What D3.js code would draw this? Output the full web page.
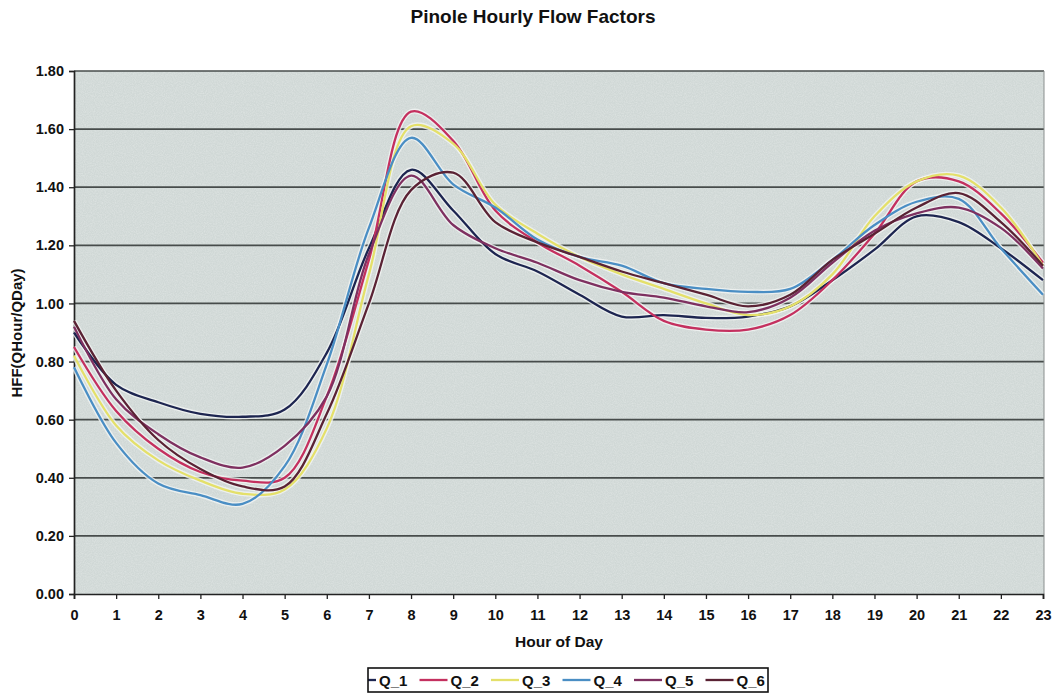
<!DOCTYPE html>
<html>
<head>
<meta charset="utf-8">
<script src="https://cdn.jsdelivr.net/npm/d3@7"></script>
<style>
  body { margin: 0; background: #fff; }
  svg text { font-family: "Liberation Sans", Arial, sans-serif; font-weight: bold; fill: #111; }
</style>
</head>
<body>
<svg id="chart" width="1055" height="694"></svg>
<script>
const hours = d3.range(0, 24);
const yTicks = [0, 0.2, 0.4, 0.6, 0.8, 1.0, 1.2, 1.4, 1.6, 1.8];
const seriesNames = ["Q_1", "Q_2", "Q_3", "Q_4", "Q_5", "Q_6"];

const q1 = [0.90, 0.72, 0.66, 0.62, 0.61, 0.635, 0.83, 1.19, 1.46, 1.32, 1.17, 1.11, 1.03, 0.955, 0.96, 0.95, 0.955, 0.99, 1.08, 1.185, 1.30, 1.28, 1.19, 1.08];
const q2 = [0.85, 0.63, 0.50, 0.42, 0.39, 0.40, 0.68, 1.15, 1.66, 1.56, 1.32, 1.21, 1.13, 1.04, 0.94, 0.91, 0.91, 0.96, 1.08, 1.24, 1.42, 1.42, 1.31, 1.14];
const q3 = [0.82, 0.58, 0.46, 0.39, 0.345, 0.36, 0.57, 1.10, 1.61, 1.55, 1.34, 1.24, 1.16, 1.10, 1.05, 1.00, 0.96, 0.99, 1.10, 1.30, 1.42, 1.44, 1.33, 1.13];
const q4 = [0.78, 0.52, 0.38, 0.34, 0.31, 0.44, 0.79, 1.26, 1.57, 1.41, 1.33, 1.22, 1.16, 1.13, 1.07, 1.05, 1.04, 1.05, 1.15, 1.27, 1.35, 1.36, 1.19, 1.03];
const q5 = [0.92, 0.67, 0.55, 0.47, 0.435, 0.51, 0.68, 1.17, 1.44, 1.27, 1.19, 1.14, 1.08, 1.04, 1.02, 0.99, 0.97, 1.02, 1.14, 1.25, 1.31, 1.33, 1.26, 1.12];
const q6 = [0.94, 0.70, 0.53, 0.43, 0.37, 0.37, 0.62, 1.00, 1.39, 1.45, 1.28, 1.21, 1.16, 1.11, 1.07, 1.03, 0.99, 1.03, 1.15, 1.24, 1.33, 1.38, 1.28, 1.13];

const seriesValues = [q1, q2, q3, q4, q5, q6];
const colors = ["#1d2550", "#c4305f", "#e4e06a", "#4a8ec4", "#7e3060", "#5a2234"];

const svg = d3.select("#chart");
const m = { left: 74, right: 1044, top: 71, bottom: 594 };

const x = d3.scaleLinear().domain([0, 23]).range([m.left, m.right - 1]);
const y = d3.scaleLinear().domain([0, 1.8]).range([m.bottom, m.top]);

// noisy scan-like background
const defs = svg.append("defs");
const f = defs.append("filter").attr("id", "grain").attr("x", 0).attr("y", 0).attr("width", 1).attr("height", 1);
f.append("feTurbulence").attr("type", "fractalNoise").attr("baseFrequency", 0.9).attr("numOctaves", 2).attr("seed", 3).attr("result", "n");
f.append("feColorMatrix").attr("in", "n").attr("type", "matrix")
  .attr("values", "0 0 0 0 1  0 0 0 0 1  0 0 0 0 1  0 0 0 -1.1 0.75").attr("result", "a");
f.append("feComposite").attr("in", "a").attr("in2", "SourceGraphic").attr("operator", "in");

defs.append("clipPath").attr("id", "legclip")
    .append("rect").attr("width", 400).attr("height", 24);

svg.append("rect")
   .attr("x", m.left).attr("y", m.top)
   .attr("width", m.right - m.left).attr("height", m.bottom - m.top)
   .attr("fill", "#d0d8d6");
svg.append("rect")
   .attr("x", m.left).attr("y", m.top)
   .attr("width", m.right - m.left).attr("height", m.bottom - m.top)
   .attr("fill", "#d0d8d6")
   .attr("filter", "url(#grain)")
   .attr("opacity", 0.4);

// grid
svg.append("g")
   .selectAll("line")
   .data(yTicks.slice(1))
   .enter()
   .append("line")
   .attr("x1", m.left).attr("x2", m.right)
   .attr("y1", d => y(d)).attr("y2", d => y(d))
   .attr("stroke", "#474c4b")
   .attr("stroke-width", 1.7);

svg.append("line")
   .attr("x1", m.right).attr("x2", m.right)
   .attr("y1", m.top).attr("y2", m.bottom)
   .attr("stroke", "#8a8f8e").attr("stroke-width", 1);

// axes
const yAxis = d3.axisLeft(y).tickValues(yTicks).tickFormat(d3.format(".2f")).tickSize(5).tickPadding(5);
const xAxis = d3.axisBottom(x).tickValues(hours).tickFormat(d3.format("d")).tickSize(5).tickPadding(11);

const gy = svg.append("g").attr("transform", `translate(${m.left},0)`).call(yAxis);
const gx = svg.append("g").attr("transform", `translate(0,${m.bottom})`).call(xAxis);
[gy, gx].forEach(g => {
  g.select(".domain").attr("stroke", "#222").attr("stroke-width", 1.7);
  g.selectAll(".tick line").attr("stroke", "#222").attr("stroke-width", 1.3);
  g.selectAll("text").attr("font-size", 14.5).attr("font-family", "Liberation Sans, Arial, sans-serif")
   .attr("font-weight", "bold").attr("fill", "#111");
});

// lines
const line = d3.line()
               .x((d, i) => x(hours[i]))
               .y(d => y(d))
               .curve(d3.curveCatmullRom.alpha(0.5));

const lines = svg.append("g");
seriesValues.forEach((vals, i) => {
  lines.append("path")
       .attr("d", line(vals))
       .attr("fill", "none")
       .attr("stroke", "#f3f5f4")
       .attr("stroke-opacity", 0.8)
       .attr("stroke-width", 5);
});
seriesValues.forEach((vals, i) => {
  lines.append("path")
       .attr("d", line(vals))
       .attr("fill", "none")
       .attr("stroke", colors[i])
       .attr("stroke-width", 2.3);
});

// titles
svg.append("text")
   .attr("x", 533).attr("y", 23)
   .attr("text-anchor", "middle")
   .attr("font-size", 19)
   .text("Pinole Hourly Flow Factors");

svg.append("text")
   .attr("x", 559).attr("y", 647)
   .attr("text-anchor", "middle")
   .attr("font-size", 15.5)
   .text("Hour of Day");

svg.append("text")
   .attr("transform", "translate(22,333) rotate(-90)")
   .attr("text-anchor", "middle")
   .attr("font-size", 15)
   .text("HFF(QHour/QDay)");

// legend
const legend = svg.append("g").attr("transform", "translate(368,668)");
legend.append("rect")
      .attr("width", 400).attr("height", 24)
      .attr("fill", "#fff");
const items = legend.append("g")
                    .attr("clip-path", "url(#legclip)")
                    .selectAll(".item")
                    .data(seriesNames)
                    .enter()
                    .append("g")
                    .attr("class", "item")
                    .attr("transform", (d, i) => `translate(${-20 + i * 71.5},12)`);
items.append("line")
     .attr("x1", 0).attr("x2", 28)
     .attr("stroke", (d, i) => colors[i])
     .attr("stroke-width", 2.3);
items.append("text")
     .attr("x", 31).attr("y", 5.5)
     .attr("font-size", 15)
     .text(d => d);
legend.append("rect")
      .attr("width", 400).attr("height", 24)
      .attr("fill", "none").attr("stroke", "#111").attr("stroke-width", 1.6);
</script>
</body>
</html>
